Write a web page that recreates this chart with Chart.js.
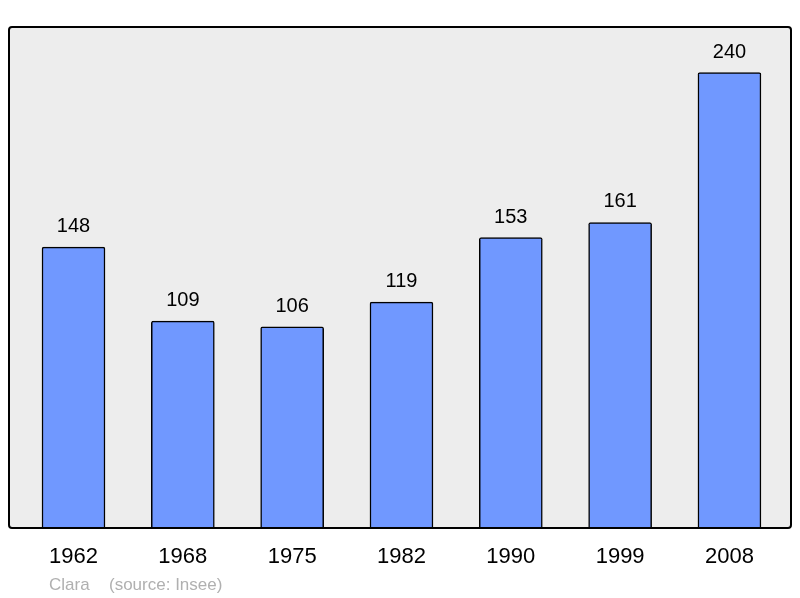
<!DOCTYPE html>
<html>
<head>
<meta charset="utf-8">
<script src="https://cdn.jsdelivr.net/npm/chart.js@4"></script>
<style>
  html, body { margin: 0; padding: 0; background: #fff; }
  #wrap { width: 800px; height: 598px; }
</style>
</head>
<body>
<div id="wrap"><canvas id="chart" width="800" height="598"></canvas></div>
<script>
const years = ['1962', '1968', '1975', '1982', '1990', '1999', '2008'];
const population = [148, 109, 106, 119, 153, 161, 240];

// plot box background + border, drawn behind the bars
const boxPlugin = {
  id: 'box',
  beforeDatasetsDraw(chart) {
    const { ctx, chartArea: a } = chart;
    ctx.save();
    ctx.beginPath();
    ctx.roundRect(a.left, a.top, a.right - a.left, a.bottom - a.top, 3);
    ctx.fillStyle = '#ededed';
    ctx.fill();
    ctx.restore();
  },
  afterDatasetsDraw(chart) {
    const { ctx, chartArea: a } = chart;
    ctx.save();
    ctx.beginPath();
    ctx.roundRect(a.left, a.top, a.right - a.left, a.bottom - a.top, 3);
    ctx.lineWidth = 2;
    ctx.strokeStyle = '#000';
    ctx.stroke();

    // value labels above bars
    ctx.fillStyle = '#000';
    ctx.font = '20px "Liberation Sans", Arial, sans-serif';
    ctx.textAlign = 'center';
    ctx.textBaseline = 'alphabetic';
    chart.getDatasetMeta(0).data.forEach((bar, i) => {
      ctx.fillText(population[i], bar.x, bar.y - 15);
    });

    // credits
    ctx.fillStyle = '#b0b0b0';
    ctx.font = '17px "Liberation Sans", Arial, sans-serif';
    ctx.textAlign = 'left';
    ctx.fillText('Clara', 49, 590);
    ctx.fillText('(source: Insee)', 109, 590);
    ctx.restore();
  }
};

new Chart(document.getElementById('chart'), {
  type: 'bar',
  data: {
    datasets: [{
      data: population.map((v, i) => ({ x: i, y: v })),
      backgroundColor: '#7098ff',
      borderColor: '#000',
      borderWidth: 1.5,
      borderRadius: 2,
      borderSkipped: 'bottom',
      barThickness: 63
    }]
  },
  options: {
    responsive: false,
    animation: false,
    layout: { padding: { left: 9, right: 9, top: 27, bottom: 10 } },
    plugins: { legend: { display: false }, tooltip: { enabled: false } },
    scales: {
      x: {
        type: 'linear',
        offset: false,
        min: -0.59,
        max: 6.563,
        grid: { display: false },
        border: { display: false },
        afterBuildTicks: (scale) => { scale.ticks = years.map((y, i) => ({ value: i })); },
        afterFit: (scale) => { scale.height = 60; },
        ticks: {
          padding: 8,
          color: '#000',
          font: { family: '"Liberation Sans", Arial, sans-serif', size: 22 },
          maxRotation: 0,
          autoSkip: false,
          callback: (v) => years[v]
        }
      },
      y: {
        display: false,
        min: 0,
        max: 264
      }
    }
  },
  plugins: [boxPlugin]
});
</script>
</body>
</html>
